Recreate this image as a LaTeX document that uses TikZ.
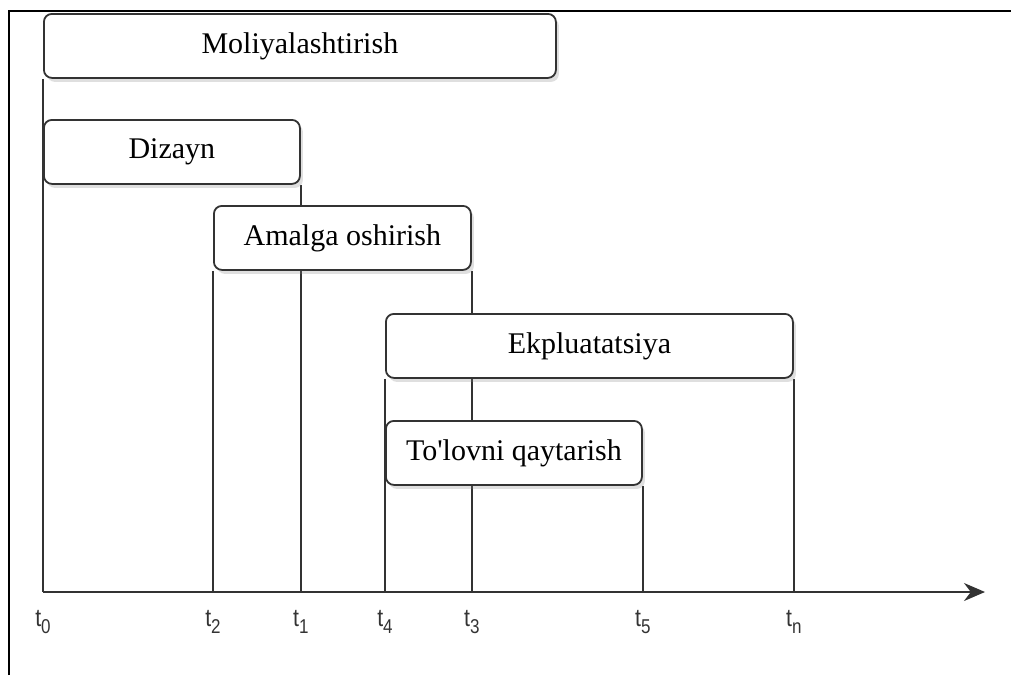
\documentclass[tikz,border=0pt]{standalone}
\usepackage{fontspec}
\setmainfont{Liberation Serif}
\newfontfamily\lblfont[FakeStretch=0.85]{Liberation Sans}
\usepackage{tikz}
\usetikzlibrary{arrows.meta, positioning, calc, shadows, backgrounds}

\newcommand{\tsub}[1]{t\raisebox{-7pt}{\fontsize{20}{22}\selectfont #1}}

\begin{document}
\begin{tikzpicture}[
  x=1pt, y=-1pt,
  box/.style={draw=black!80, fill=white, rounded corners=8pt, line width=1.8pt,
              anchor=north west, minimum height=64pt, inner sep=0pt,
              font=\fontsize{30}{34}\selectfont,
              drop shadow={opacity=0.25, shadow xshift=3pt, shadow yshift=-4pt}},
  lbl/.style={font=\lblfont\fontsize{25}{28}\selectfont, text=black!80, inner sep=0pt},
  line/.style={draw=black!80, line width=1.8pt},
  >={Stealth[length=21pt, width=18pt]}
]
\useasboundingbox (0,0) rectangle (1011,675);

% --- Page frame ---
\coordinate (fbl) at (9,675);
\coordinate (ftl) at (9,11);
\coordinate (ftr) at (1011,11);
\draw[line, line width=1.2pt, draw=black] (fbl) -- (ftl) -- (ftr);

% --- Phases ---
\node[box, minimum width=512pt] (mol) at (43,13)  {Moliyalashtirish};
\node[box, minimum width=256pt] (diz) at (43,119) {Dizayn};
\node[box, minimum width=257pt] (ama) at (213,205) {Amalga oshirish};
\node[box, minimum width=407pt] (ekp) at (385,313) {Ekpluatatsiya};
\node[box, minimum width=256pt] (tol) at (385,420) {To\textquotesingle lovni qaytarish};

% --- Time axis ---
\coordinate (o) at (43,592);
\coordinate (tend) at (985,592);
\draw[line, ->] (o) -- (tend);

% === Ticks (behind the boxes) ===
\begin{pgfonlayer}{background}
  \draw[line] (mol.south west) -- (o);
  \draw[line] (ama.south west) -- (ama.south west |- o);
  \draw[line] (diz.south east) -- (diz.south east |- o);
  \draw[line] (ekp.south west) -- (ekp.south west |- o);
  \draw[line] (ama.south east) -- (ama.south east |- o);
  \draw[line] (tol.south east) -- (tol.south east |- o);
  \draw[line] (ekp.south east) -- (ekp.south east |- o);
\end{pgfonlayer}

% === Labels ===
\node[lbl] (lt0) at ($(o)+(0,30)$) {\tsub{0}};
\node[lbl] (lt2) at ($(ama.south west |- o)+(0,30)$) {\tsub{2}};
\node[lbl] (lt1) at ($(diz.south east |- o)+(0,30)$) {\tsub{1}};
\node[lbl] (lt4) at ($(ekp.south west |- o)+(0,30)$) {\tsub{4}};
\node[lbl] (lt3) at ($(ama.south east |- o)+(0,30)$) {\tsub{3}};
\node[lbl] (lt5) at ($(tol.south east |- o)+(0,30)$) {\tsub{5}};
\node[lbl] (ltn) at ($(ekp.south east |- o)+(0,30)$) {\tsub{n}};

\end{tikzpicture}
\end{document}
